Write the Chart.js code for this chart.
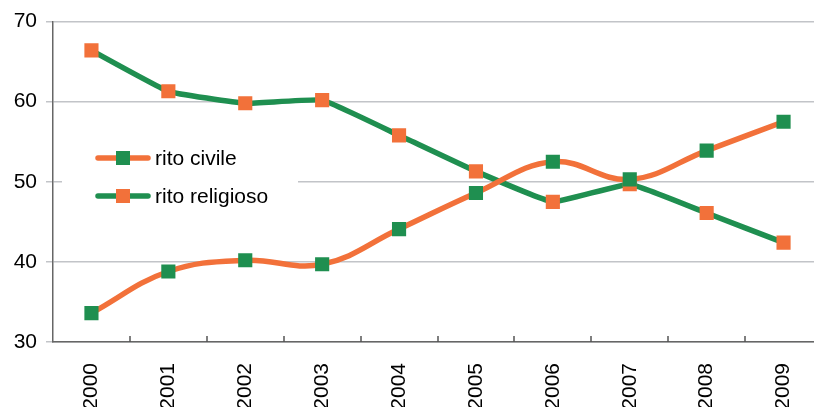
<!DOCTYPE html>
<html>
<head>
<meta charset="utf-8">
<script src="https://cdn.jsdelivr.net/npm/chart.js@4/dist/chart.umd.min.js"></script>
<style>
  html, body { margin: 0; padding: 0; background: #fff; overflow: hidden; }
  #wrap { width: 832px; height: 407px; position: relative; }
</style>
</head>
<body>
<div id="wrap"><canvas id="matrimoniChart"></canvas></div>
<script>
const years = ["2000", "2001", "2002", "2003", "2004", "2005", "2006", "2007", "2008", "2009"];
const ritoCivile = [33.6, 38.8, 40.2, 39.7, 44.1, 48.6, 52.5, 50.3, 53.9, 57.5];
const ritoReligioso = [66.4, 61.3, 59.8, 60.2, 55.8, 51.3, 47.5, 49.7, 46.1, 42.4];
const yTicks = [30, 40, 50, 60, 70];

const ORANGE = "#f2713a";
const GREEN = "#1f8f50";
const FONT = "'Liberation Sans', Arial, sans-serif";

// legend drawn inside the plot, line colour with the other series' marker (as in the original)
const insideLegend = {
  id: "insideLegend",
  afterDraw(chart) {
    const c = chart.ctx;
    c.save();
    c.fillStyle = "#fff";
    c.fillRect(62, 138, 236, 80);
    chart.data.datasets.forEach((ds, i) => {
      const y = 158 + i * 38;
      c.strokeStyle = ds.borderColor;
      c.lineWidth = 5.5;
      c.lineCap = "round";
      c.beginPath();
      c.moveTo(98, y);
      c.lineTo(148, y);
      c.stroke();
      c.fillStyle = ds.pointBackgroundColor;
      c.fillRect(116, y - 7, 14, 14);
      c.fillStyle = "#000";
      c.font = "21px " + FONT;
      c.textBaseline = "middle";
      c.fillText(ds.label, 155, y + 1);
    });
    c.restore();
  }
};

// small tick marks between categories, pointing up into the plot
const innerTicks = {
  id: "innerTicks",
  afterDraw(chart) {
    const x = chart.scales.x;
    const c = chart.ctx;
    const half = (x.getPixelForTick(1) - x.getPixelForTick(0)) / 2;
    c.save();
    c.strokeStyle = "#555";
    c.lineWidth = 1.5;
    for (let i = 0; i < years.length; i++) {
      const px = Math.round(x.getPixelForTick(i) + half);
      c.beginPath();
      c.moveTo(px, x.top);
      c.lineTo(px, x.top - 6);
      c.stroke();
    }
    c.restore();
  }
};

const ctx = document.getElementById("matrimoniChart").getContext("2d");
const matrimoniChart = new Chart(ctx, {
  type: "line",
  data: {
    labels: years,
    datasets: [
      {
        label: "rito civile",
        data: ritoCivile,
        borderColor: ORANGE,
        borderWidth: 5.5,
        tension: 0.4,
        pointStyle: "rect",
        pointRadius: 10,
        pointBackgroundColor: GREEN,
        pointBorderWidth: 0,
      },
      {
        label: "rito religioso",
        data: ritoReligioso,
        borderColor: GREEN,
        borderWidth: 5.5,
        tension: 0.1,
        pointStyle: "rect",
        pointRadius: 10,
        pointBackgroundColor: ORANGE,
        pointBorderWidth: 0,
      },
    ],
  },
  options: {
    responsive: true,
    maintainAspectRatio: false,
    animation: false,
    layout: { padding: { top: 19, left: 0, right: 9, bottom: 0 } },
    plugins: {
      legend: { display: false },
      tooltip: { enabled: false },
    },
    scales: {
      x: {
        offset: true,
        grid: { display: false },
        border: { color: "#666", width: 1.5 },
        ticks: {
          color: "#000",
          font: { family: FONT, size: 21 },
          minRotation: 90,
          maxRotation: 90,
          padding: 13,
        },
        afterFit(scale) { scale.height = 65; },
      },
      y: {
        min: 30,
        max: 70,
        afterBuildTicks(scale) { scale.ticks = yTicks.map(v => ({ value: v })); },
        grid: { color: "#c2c4c8", lineWidth: 1.5, tickLength: 7 },
        border: { color: "#666", width: 1.5 },
        ticks: {
          color: "#000",
          font: { family: FONT, size: 21 },
          padding: 9,
        },
        afterFit(scale) { scale.width = 53; },
      },
    },
  },
  plugins: [insideLegend, innerTicks],
});
</script>
</body>
</html>
